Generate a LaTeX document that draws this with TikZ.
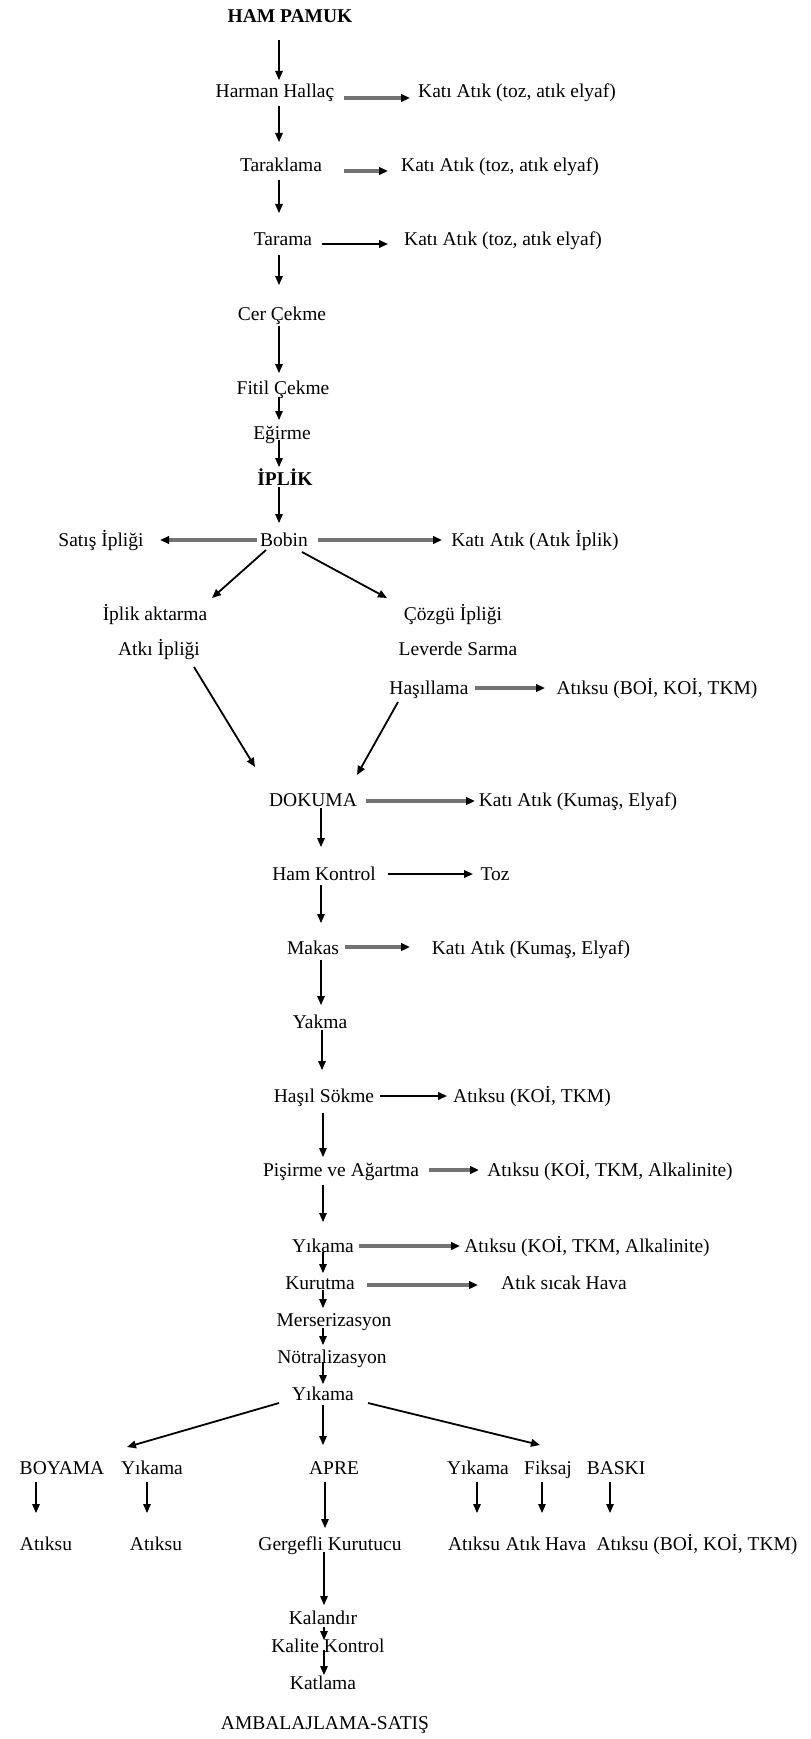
\documentclass[tikz,border=0pt]{standalone}
\usepackage{fontspec}
\setmainfont{Liberation Serif}
\usetikzlibrary{arrows.meta,calc}
\begin{document}
\begin{tikzpicture}[x=0.5pt,y=-0.5pt,
  lbl/.style={inner sep=0pt, anchor=center, text height=9pt, text depth=1.5pt,
              font=\fontsize{9.75pt}{11pt}\selectfont},
  bold/.style={lbl, font=\fontsize{9.75pt}{11pt}\selectfont\bfseries},
  tipped/.style={-{Triangle[length=4.5pt,width=3.8pt,black]}},
  varr/.style={tipped, draw=black, line width=0.55pt},
  darr/.style={tipped, draw=black, line width=0.9pt},
  garr/.style={tipped, draw=black!55, line width=1.6pt},
]
\useasboundingbox (0,0) rectangle (810,1739);
\fill[white] (0,0) rectangle (810,1739);

% ---- spinning ----
\node[bold] (hp) at (290,15) {HAM PAMUK};
\node[lbl] (hh) at (275,90) {Harman Hallaç};
\node[lbl] (k1) at (517,90) {Katı Atık (toz, atık elyaf)};
\node[lbl] (tk) at (281,164) {Taraklama};
\node[lbl] (k2) at (500,164) {Katı Atık (toz, atık elyaf)};
\node[lbl] (tr) at (283,238) {Tarama};
\node[lbl] (k3) at (503,238) {Katı Atık (toz, atık elyaf)};
\node[lbl] (cc) at (282,313) {Cer Çekme};
\node[lbl] (fc) at (283,387) {Fitil Çekme};
\node[lbl] (eg) at (282,432) {Eğirme};
\node[bold] (ip) at (285,478) {İPLİK};

% ---- winding and weaving preparation ----
\node[lbl] (bb) at (284,539) {Bobin};
\node[lbl] (si) at (101,539) {Satış İpliği};
\node[lbl] (ka) at (535,539) {Katı Atık (Atık İplik)};
\node[lbl] (ia) at (155,613) {İplik aktarma};
\node[lbl] (ci) at (453,613) {Çözgü İpliği};
\node[lbl] (ai) at (159,648) {Atkı İpliği};
\node[lbl] (ls) at (458,648) {Leverde Sarma};
\node[lbl] (hs) at (429,687) {Haşıllama};
\node[lbl] (a1) at (657,687) {Atıksu (BOİ, KOİ, TKM)};

% ---- weaving and pretreatment ----
\node[lbl] (dk) at (313,799) {DOKUMA};
\node[lbl] (k4) at (578,799) {Katı Atık (Kumaş, Elyaf)};
\node[lbl] (hk) at (324,873) {Ham Kontrol};
\node[lbl] (tz) at (495,873) {Toz};
\node[lbl] (mk) at (313,947) {Makas};
\node[lbl] (k5) at (531,947) {Katı Atık (Kumaş, Elyaf)};
\node[lbl] (yk) at (320,1021) {Yakma};
\node[lbl] (hsk) at (324,1095) {Haşıl Sökme};
\node[lbl] (a2) at (532,1095) {Atıksu (KOİ, TKM)};
\node[lbl] (pa) at (341,1169) {Pişirme ve Ağartma};
\node[lbl] (a3) at (610,1169) {Atıksu (KOİ, TKM, Alkalinite)};
\node[lbl] (y1) at (323,1245) {Yıkama};
\node[lbl] (a4) at (587,1245) {Atıksu (KOİ, TKM, Alkalinite)};
\node[lbl] (ku) at (320,1282) {Kurutma};
\node[lbl] (ah) at (564,1282) {Atık sıcak Hava};
\node[lbl] (me) at (334,1319) {Merserizasyon};
\node[lbl] (no) at (332,1356) {Nötralizasyon};
\node[lbl] (y2) at (323,1393) {Yıkama};

% ---- finishing branches ----
\node[lbl] (by) at (62,1467) {BOYAMA};
\node[lbl] (y3) at (152,1467) {Yıkama};
\node[lbl] (ap) at (334,1467) {APRE};
\node[lbl] (y4) at (478,1467) {Yıkama};
\node[lbl] (fk) at (548,1467) {Fiksaj};
\node[lbl] (bs) at (616,1467) {BASKI};
\node[lbl] (w1) at (46,1543) {Atıksu};
\node[lbl] (w2) at (156,1543) {Atıksu};
\node[lbl] (gk) at (330,1543) {Gergefli Kurutucu};
\node[lbl] (w3) at (474,1543) {Atıksu};
\node[lbl] (ahv) at (546,1543) {Atık Hava};
\node[lbl] (w4) at (697,1543) {Atıksu (BOİ, KOİ, TKM)};
\node[lbl] (kl) at (323,1617) {Kalandır};
\node[lbl] (kk) at (328,1645) {Kalite Kontrol};
\node[lbl] (kt) at (323,1682) {Katlama};
\node[lbl] (am) at (325,1722) {AMBALAJLAMA-SATIŞ};

% ---- connectors ----
\draw[varr] ($(hp)+(-11,25)$) -- ($(hh)+(4,-10)$);
\draw[garr] ($(hh)+(69,8)$) -- ($(k1)+(-107,8)$);
\draw[varr] ($(hh)+(4,16)$) -- ($(tk)+(-2,-22)$);
\draw[garr] ($(tk)+(63,7)$) -- ($(k2)+(-112,7)$);
\draw[varr] ($(tk)+(-2,16)$) -- ($(tr)+(-4,-25)$);
\draw[darr] ($(tr)+(39,6)$) -- ($(k3)+(-115,6)$);
\draw[varr] ($(tr)+(-4,17)$) -- ($(cc)+(-3,-28)$);
\draw[varr] ($(cc)+(-3,13)$) -- ($(fc)+(-4,-14)$);
\draw[varr] ($(fc)+(-4,10)$) -- ($(eg)+(-3,-12)$);
\draw[varr] ($(eg)+(-3,8)$) -- ($(ip)+(-6,-11)$);
\draw[varr] ($(ip)+(-6,9)$) -- ($(bb)+(-5,-16)$);

\draw[garr] ($(bb)+(-27,1)$) -- ($(si)+(59,1)$);
\draw[garr] ($(bb)+(34,1)$) -- ($(ka)+(-93,1)$);
\draw[darr] ($(bb)+(-18,11)$) -- ($(ia)+(57,-15)$);
\draw[darr] ($(bb)+(18,13)$) -- ($(ci)+(-66,-15)$);
\draw[darr] ($(ai)+(35,19)$) -- ($(dk)+(-58,-32)$);
\draw[darr] ($(hs)+(-31,15)$) -- ($(dk)+(44,-24)$);
\draw[garr] ($(hs)+(46,1)$) -- ($(a1)+(-112,1)$);

\draw[garr] ($(dk)+(53,2)$) -- ($(k4)+(-103,2)$);
\draw[varr] ($(dk)+(8,9)$) -- ($(hk)+(-3,-26)$);
\draw[darr] ($(hk)+(64,1)$) -- ($(tz)+(-22,1)$);
\draw[varr] ($(hk)+(-3,12)$) -- ($(mk)+(8,-24)$);
\draw[garr] ($(mk)+(32,0)$) -- ($(k5)+(-121,0)$);
\draw[varr] ($(mk)+(8,13)$) -- ($(yk)+(1,-16)$);
\draw[varr] ($(yk)+(2,9)$) -- ($(hsk)+(-2,-25)$);
\draw[darr] ($(hsk)+(56,1)$) -- ($(a2)+(-85,1)$);
\draw[varr] ($(hsk)+(-1,18)$) -- ($(pa)+(-18,-12)$);
\draw[garr] ($(pa)+(88,1)$) -- ($(a3)+(-131,1)$);
\draw[varr] ($(pa)+(-18,16)$) -- ($(y1)+(0,-23)$);
\draw[garr] ($(y1)+(36,1)$) -- ($(a4)+(-127,1)$);
\draw[varr] ($(y1)+(0,7)$) -- ($(ku)+(3,-9)$);
\draw[garr] ($(ku)+(47,3)$) -- ($(ah)+(-86,3)$);
\draw[varr] ($(ku)+(3,8)$) -- ($(me)+(-11,-11)$);
\draw[varr] ($(me)+(-11,9)$) -- ($(no)+(-9,-11)$);
\draw[varr] ($(no)+(-9,6)$) -- ($(y2)+(0,-9)$);

\draw[darr] ($(y2)+(-44,10)$) -- ($(y3)+(-25,-20)$);
\draw[varr] ($(y2)+(0,12)$) -- ($(ap)+(-11,-22)$);
\draw[darr] ($(y2)+(45,10)$) -- ($(fk)+(-8,-22)$);

\draw[varr] ($(by)+(-26,15)$) -- ($(w1)+(-10,-30)$);
\draw[varr] ($(y3)+(-5,15)$) -- ($(w2)+(-9,-30)$);
\draw[varr] ($(ap)+(-9,15)$) -- ($(gk)+(-5,-15)$);
\draw[varr] ($(y4)+(-1,15)$) -- ($(w3)+(3,-30)$);
\draw[varr] ($(fk)+(-6,15)$) -- ($(ahv)+(-4,-30)$);
\draw[varr] ($(bs)+(-6,15)$) -- ($(w4)+(-87,-30)$);

\draw[varr] ($(gk)+(-6,9)$) -- ($(kl)+(1,-12)$);
\draw[varr] ($(kl)+(1,10)$) -- ($(kk)+(-4,-5)$);
\draw[varr] ($(kk)+(-4,5)$) -- ($(kt)+(1,-7)$);
\end{tikzpicture}
\end{document}
